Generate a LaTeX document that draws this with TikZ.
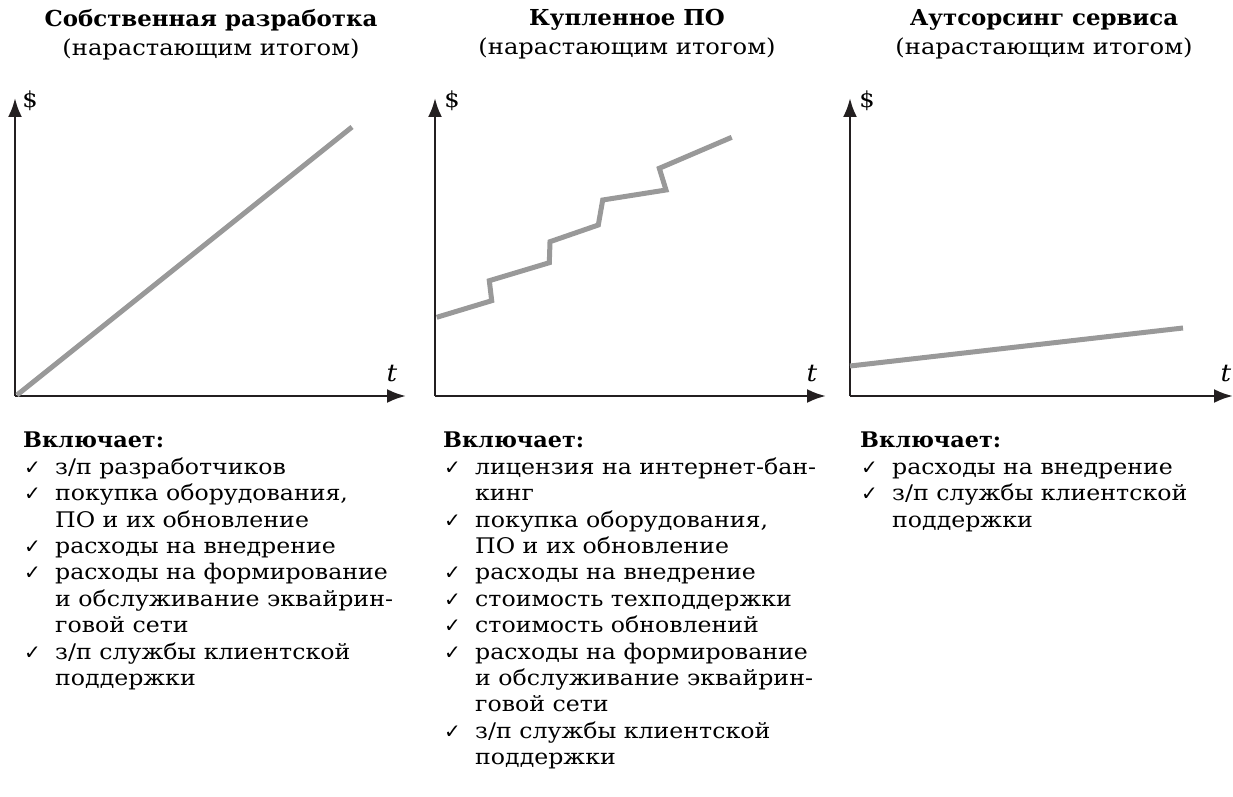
\documentclass[tikz,border=0pt]{standalone}
\usepackage{fontspec}
\setmainfont[FakeStretch=1.10, BoldFeatures={FakeStretch=1.04}]{DejaVu Serif}
\newfontfamily\symfont{DejaVu Sans}
\usetikzlibrary{arrows.meta}
\definecolor{axisblack}{HTML}{231F20}
\definecolor{curvegray}{HTML}{999999}
\newcommand\chk{\makebox[32pt][l]{\hspace{1pt}{\symfont\fontsize{20}{20}\selectfont ✓}}}
\newcommand\cont{\hspace*{32pt}}
\tikzset{
  axis/.style={line width=2.7pt, draw=axisblack, -{Latex[length=19pt,width=14pt]}},
  curve/.style={line width=5pt, draw=curvegray},
  title/.style={align=center, font=\fontsize{22}{29}\selectfont, inner sep=0pt, anchor=north},
  list/.style={align=left, anchor=north west, font=\fontsize{21.5}{26.4}\selectfont, inner sep=0pt},
  dollar/.style={font=\fontsize{22}{22}\selectfont, inner sep=0pt},
  tlabel/.style={font=\itshape\fontsize{24}{24}\selectfont, inner sep=0pt},
}
\begin{document}
\begin{tikzpicture}[x=1pt,y=-1pt]
\useasboundingbox (0,0) rectangle (1233,797);
% titles
\node[title] (t1) at (211,9) {\textbf{Собственная разработка}\\(нарастающим итогом)};
\node[title] (t2) at (627,9) {\textbf{Купленное ПО}\\(нарастающим итогом)};
\node[title] (t3) at (1044,9) {\textbf{Аутсорсинг сервиса}\\(нарастающим итогом)};
% chart 1
\coordinate (o1) at (15,396);
\coordinate (y1) at (15,98);
\coordinate (x1) at (406,396);
\draw[axis] (o1) -- (y1);
\draw[axis] (o1) -- (x1);
\node[dollar] (d1) at (30,101) {\$};
\node[tlabel] (tt1) at (392,374) {t};
\coordinate (c1a) at (17,395);
\coordinate (c1b) at (352,127);
\draw[curve] (c1a) -- (c1b);
% chart 2
\coordinate (o2) at (435,396);
\coordinate (y2) at (435,98);
\coordinate (x2) at (826,396);
\draw[axis] (o2) -- (y2);
\draw[axis] (o2) -- (x2);
\node[dollar] (d2) at (452,101) {\$};
\node[tlabel] (tt2) at (812,374) {t};
\draw[curve] (436.7,317.3) -- (491.7,300.7) -- (489.3,280.7) -- (549.3,262.7) -- (550,241.7)
  -- (598.3,225) -- (602.7,200) -- (666,190) -- (659.3,168.3) -- (731.7,137.3);
% chart 3
\coordinate (o3) at (850,396);
\coordinate (y3) at (850,98);
\coordinate (x3) at (1233,396);
\draw[axis] (o3) -- (y3);
\draw[axis] (o3) -- (x3);
\node[dollar] (d3) at (867,101) {\$};
\node[tlabel] (tt3) at (1226,374) {t};
\coordinate (c3a) at (850,366);
\coordinate (c3b) at (1183,328);
\draw[curve] (c3a) -- (c3b);
% lists
\node[list] (l1) at (23,432) {\textbf{Включает:}\\
\chk з/п разработчиков\\
\chk покупка оборудования,\\
\cont ПО и их обновление\\
\chk расходы на внедрение\\
\chk расходы на формирование\\
\cont и обслуживание эквайрин-\\
\cont говой сети\\
\chk з/п службы клиентской\\
\cont поддержки};
\node[list] (l2) at (443,432) {\textbf{Включает:}\\
\chk лицензия на интернет-бан-\\
\cont кинг\\
\chk покупка оборудования,\\
\cont ПО и их обновление\\
\chk расходы на внедрение\\
\chk стоимость техподдержки\\
\chk стоимость обновлений\\
\chk расходы на формирование\\
\cont и обслуживание эквайрин-\\
\cont говой сети\\
\chk з/п службы клиентской\\
\cont поддержки};
\node[list] (l3) at (860,432) {\textbf{Включает:}\\
\chk расходы на внедрение\\
\chk з/п службы клиентской\\
\cont поддержки};
\end{tikzpicture}
\end{document}
